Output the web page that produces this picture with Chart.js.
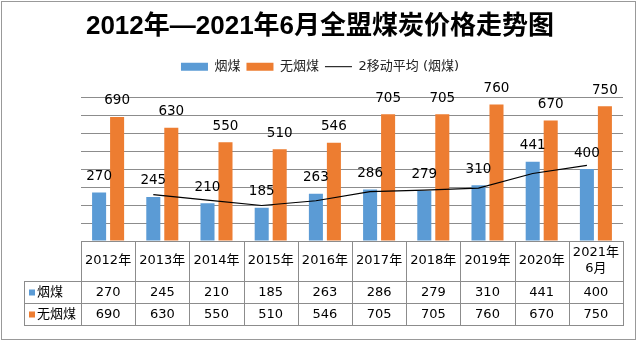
<!DOCTYPE html>
<html>
<head>
<meta charset="utf-8">
<script src="https://cdn.jsdelivr.net/npm/chart.js@4.4.1/dist/chart.umd.min.js"></script>
<style>
  html, body { margin: 0; padding: 0; background: #fff; }
</style>
</head>
<body>
<canvas id="grafico" width="640" height="342"></canvas>
<script>
// Dados
const anos = ['2012年', '2013年', '2014年', '2015年', '2016年', '2017年', '2018年', '2019年', '2020年', ['2021年', '6月']];
const yanmei = [270, 245, 210, 185, 263, 286, 279, 310, 441, 400];
const wuyanmei = [690, 630, 550, 510, 546, 705, 705, 760, 670, 750];
const mediaMovel = [null, 257.5, 227.5, 197.5, 224, 274.5, 282.5, 294.5, 375.5, 420.5];

const AZUL = '#5B9BD5';
const LARANJA = '#ED7D31';
const CINZA = '#8c8c8c';
const FONTE = '"DejaVu Sans", "Noto Sans CJK SC", sans-serif';

const CAT_PCT = 0.664;
const BAR_PCT = 0.78;

// fundo e borda externa
const bordaPlugin = {
  id: 'borda',
  beforeDraw(chart) {
    const ctx = chart.ctx;
    ctx.save();
    ctx.fillStyle = '#fff';
    ctx.fillRect(0, 0, chart.width, chart.height);
    ctx.strokeStyle = '#999';
    ctx.lineWidth = 1;
    ctx.strokeRect(1.5, 1.5, 634, 338);
    ctx.restore();
  }
};

// rótulos acima das barras
const rotulosPlugin = {
  id: 'rotulos',
  afterDatasetsDraw(chart) {
    const ctx = chart.ctx;
    ctx.save();
    ctx.font = '13.5px ' + FONTE;
    ctx.fillStyle = '#000';
    ctx.textAlign = 'center';
    ctx.textBaseline = 'middle';
    [0, 1].forEach(d => {
      const meta = chart.getDatasetMeta(d);
      meta.data.forEach((bar, i) => {
        ctx.fillText(String(chart.data.datasets[d].data[i].y), bar.x, bar.y - 16);
      });
    });
    ctx.restore();
  }
};

// tabela de dados abaixo do gráfico
const tabelaPlugin = {
  id: 'tabela',
  afterDraw(chart) {
    const ctx = chart.ctx;
    const area = chart.chartArea;
    const xs = chart.scales.x;
    const n = anos.length;
    const topo = Math.round(area.bottom);
    const linhas = [topo, topo + 40, topo + 62, topo + 84];
    const esq = 24;
    const px = v => Math.round(v) + 0.5;

    ctx.save();
    ctx.strokeStyle = CINZA;
    ctx.lineWidth = 1;
    ctx.beginPath();
    ctx.moveTo(area.left, px(linhas[0]));
    ctx.lineTo(area.right + 1, px(linhas[0]));
    for (let r = 1; r < linhas.length; r++) {
      ctx.moveTo(esq, px(linhas[r]));
      ctx.lineTo(area.right + 1, px(linhas[r]));
    }
    for (let k = 0; k <= n; k++) {
      const x = px(xs.getPixelForValue(k - 0.5));
      ctx.moveTo(x, linhas[0]);
      ctx.lineTo(x, linhas[3] + 1);
    }
    ctx.moveTo(px(esq), linhas[1]);
    ctx.lineTo(px(esq), linhas[3] + 1);
    ctx.stroke();

    ctx.fillStyle = '#000';
    ctx.font = '13px ' + FONTE;
    ctx.textAlign = 'center';
    ctx.textBaseline = 'middle';
    anos.forEach((ano, i) => {
      const x = xs.getPixelForValue(i);
      if (Array.isArray(ano)) {
        ctx.fillText(ano[0], x, linhas[0] + 12);
        ctx.fillText(ano[1], x, linhas[0] + 28);
      } else {
        ctx.fillText(ano, x, linhas[0] + 20);
      }
    });

    const series = [
      { nome: '烟煤', cor: AZUL, valores: yanmei },
      { nome: '无烟煤', cor: LARANJA, valores: wuyanmei }
    ];
    series.forEach((s, r) => {
      const yc = (linhas[r + 1] + linhas[r + 2]) / 2 + 0.5;
      ctx.fillStyle = s.cor;
      ctx.fillRect(esq + 5, yc - 3, 6, 6);
      ctx.fillStyle = '#000';
      ctx.textAlign = 'left';
      ctx.fillText(s.nome, esq + 13, yc);
      ctx.textAlign = 'center';
      s.valores.forEach((v, i) => {
        ctx.fillText(String(v), xs.getPixelForValue(i), yc);
      });
    });
    ctx.restore();
  }
};

// eixos invisíveis só reservam espaço
const eixoVazio = (pos, tamanho) => ({
  type: 'linear',
  position: pos,
  display: true,
  offset: false,
  ticks: { display: false },
  grid: { display: false, drawTicks: false },
  border: { display: false },
  afterFit(scale) {
    if (scale.isHorizontal()) scale.height = tamanho;
    else scale.width = tamanho;
  }
});

const pontos = valores => valores.map((v, i) => ({ x: i, y: v }));

new Chart(document.getElementById('grafico'), {
  type: 'bar',
  data: {
    datasets: [{
      label: '烟煤',
      data: pontos(yanmei),
      backgroundColor: AZUL,
      categoryPercentage: CAT_PCT,
      barPercentage: BAR_PCT
    }, {
      label: '无烟煤',
      data: pontos(wuyanmei),
      backgroundColor: LARANJA,
      categoryPercentage: CAT_PCT,
      barPercentage: BAR_PCT
    }, {
      type: 'line',
      label: '2移动平均 (烟煤)',
      // pontos alinhados ao centro da barra azul
      data: mediaMovel.map((v, i) => ({ x: i - CAT_PCT / 4, y: v })),
      borderColor: '#000',
      borderWidth: 1.2,
      pointRadius: 0,
      tension: 0,
      order: -1
    }]
  },
  options: {
    responsive: false,
    animation: false,
    layout: { padding: 0 },
    scales: {
      x: Object.assign(eixoVazio('bottom', 101), {
        min: -0.5,
        max: anos.length - 0.5,
        afterBuildTicks(scale) {
          scale.ticks = anos.map((_, i) => ({ value: i }));
        }
      }),
      xt: eixoVazio('top', 14),
      y: {
        position: 'left',
        min: 0,
        max: 800,
        ticks: { display: false, stepSize: 100 },
        grid: { color: CINZA, drawTicks: false },
        border: { display: false },
        afterFit(scale) { scale.width = 81; }
      },
      yr: eixoVazio('right', 17)
    },
    plugins: {
      title: {
        display: true,
        text: '2012年—2021年6月全盟煤炭价格走势图',
        color: '#000',
        font: { family: '"Liberation Sans", "Noto Sans CJK SC", sans-serif', size: 26, weight: 'bold' },
        padding: { top: 11, bottom: 12 }
      },
      legend: {
        labels: {
          color: '#222',
          font: { family: FONTE, size: 13 },
          usePointStyle: true,
          pointStyleWidth: 27,
          boxHeight: 8,
          padding: 6,
          generateLabels(chart) {
            return chart.data.datasets.map((ds, i) => ({
              text: ds.label,
              fillStyle: ds.type === 'line' ? 'transparent' : ds.backgroundColor,
              strokeStyle: ds.type === 'line' ? '#000' : ds.backgroundColor,
              lineWidth: ds.type === 'line' ? 1 : 0,
              pointStyle: ds.type === 'line' ? 'line' : 'rect',
              fontColor: '#222',
              datasetIndex: i
            }));
          }
        }
      },
      tooltip: { enabled: false }
    }
  },
  plugins: [bordaPlugin, rotulosPlugin, tabelaPlugin]
});
</script>
</body>
</html>
